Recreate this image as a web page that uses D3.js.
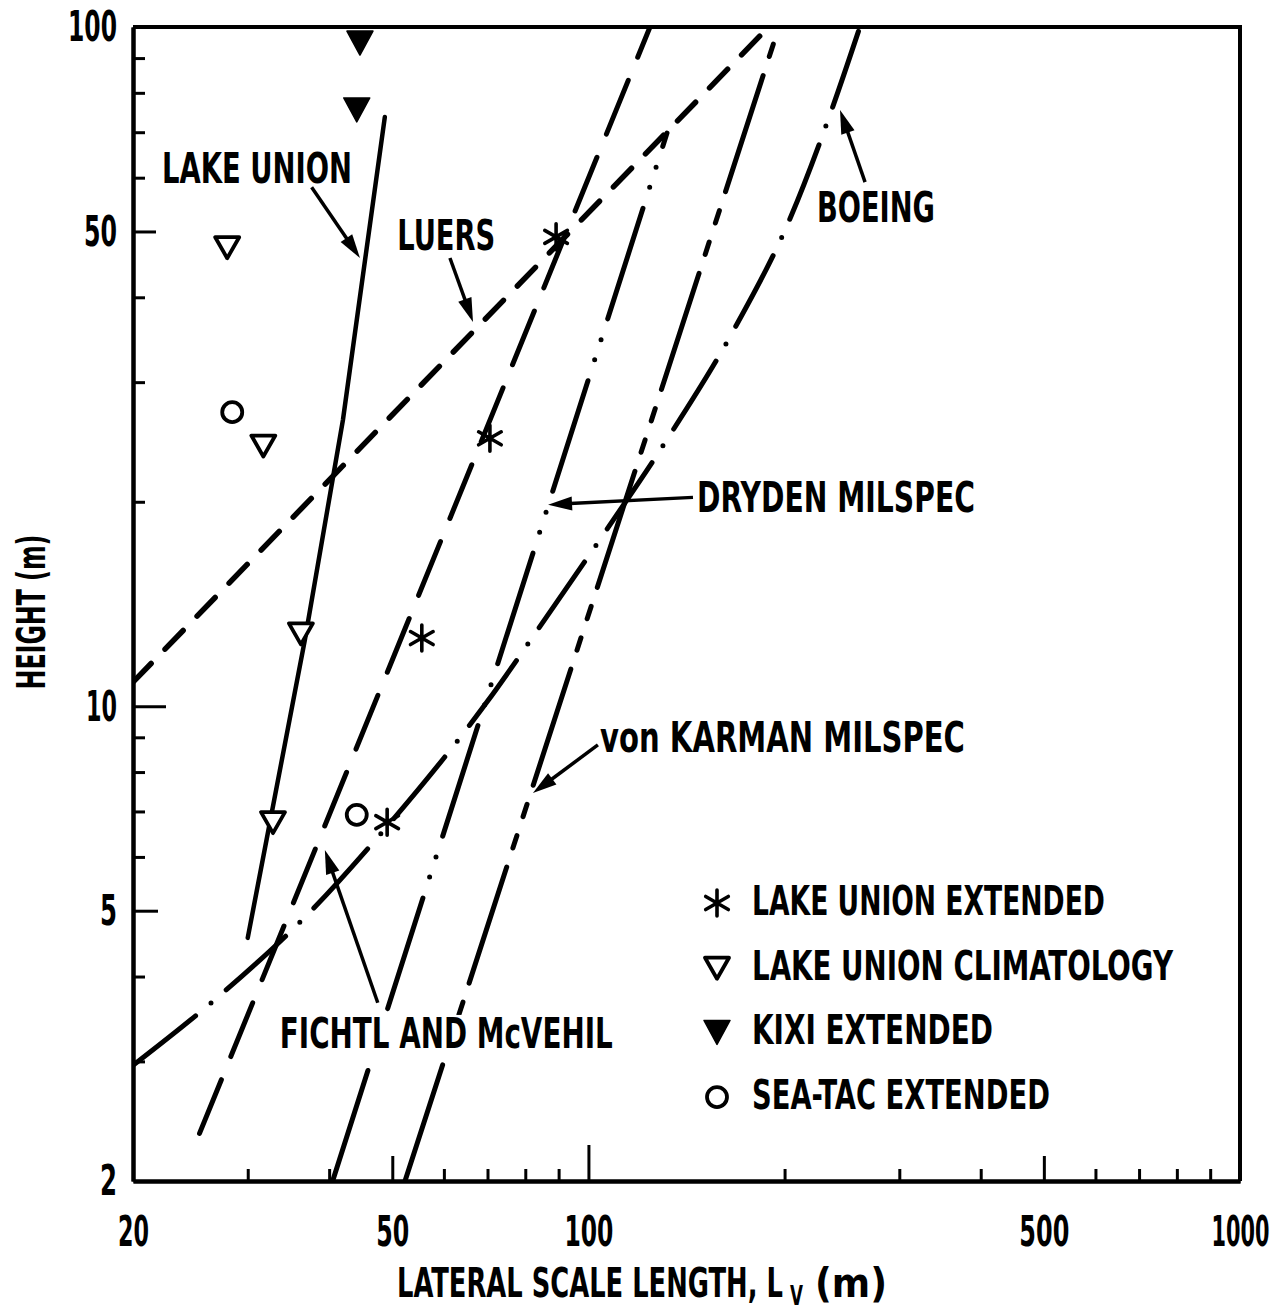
<!DOCTYPE html>
<html>
<head>
<meta charset="utf-8">
<script src="https://cdn.jsdelivr.net/npm/d3@7"></script>
<style>
  html, body { margin: 0; padding: 0; background: #fff; }
  svg { display: block; }
  text {
    font-family: "Liberation Sans Narrow", "DejaVu Sans Condensed", "Arial Narrow", sans-serif;
    font-weight: bold;
    fill: #000;
  }
</style>
</head>
<body>
<svg id="chart" width="1284" height="1313"></svg>
<script>
// ---- tick values ----
const xMajorTicks = [20, 50, 100, 500, 1000];
const xMinorTicks = [30, 40, 60, 70, 80, 90, 200, 300, 400, 600, 700, 800, 900];
const yMajorTicks = [2, 5, 10, 50, 100];
const yMinorTicks = [3, 4, 6, 7, 8, 9, 20, 30, 40, 60, 70, 80, 90];

// ---- measured points: lateral scale length L_v (m) vs height (m) ----
const lakeUnionExtL = [49.1, 55.5, 70.6, 89.2];
const lakeUnionExtH = [6.75, 12.6, 24.8, 49.1];
const lakeUnionClimL = [27.9, 31.7, 36.2, 32.8];
const lakeUnionClimH = [47.4, 24.2, 12.8, 6.75];
const kixiExtL = [44.6, 44.1];
const kixiExtH = [94.7, 75.5];
const seaTacExtL = [28.4, 44.1];
const seaTacExtH = [27.1, 6.92];

// ---- model curves ----
const lakeUnionCurveL = [48.7, 42.0, 36.7, 30.0];
const lakeUnionCurveH = [73.7, 26.4, 12.5, 4.56];
const luersCurveL = [20, 189];
const luersCurveH = [10.85, 100];
const fichtlCurveL = [25.3, 124.3];
const fichtlCurveH = [2.35, 100];
const drydenCurveL = [40.5, 132];
const drydenCurveH = [2, 69.8];
const vonKarmanCurveL = [52.3, 196];
const vonKarmanCurveH = [2, 100];
const boeingCurveL = [20, 26.9, 37.4, 47.4, 69.9, 87.9, 105, 132, 166, 204, 237, 261];
const boeingCurveH = [2.96, 3.72, 4.98, 6.40, 10.15, 13.9, 17.8, 24.7, 35.4, 52.3, 76.2, 100];

// ---- curve labels and their pointers (in chart units) ----
const curveLabels = ["LAKE UNION", "LUERS", "BOEING", "DRYDEN MILSPEC", "von KARMAN MILSPEC", "FICHTL AND McVEHIL"];
const curveLabelL = [22.16, 50.9, 224.3, 146.8, 104.2, 33.6];
const curveLabelH = [58.9, 46.9, 51.6, 19.3, 8.56, 3.14];
const pointerFromL = [37.6, 61.3, 265.8, 144.7, 103.4, 47.5];
const pointerFromH = [58.1, 45.7, 59.1, 20.3, 8.77, 3.66];
const pointerToL = [44.6, 66.5, 243.3, 86.7, 82.2, 39.4];
const pointerToH = [45.7, 36.8, 75.5, 19.8, 7.45, 6.14];

const legendLabels = ["LAKE UNION EXTENDED", "LAKE UNION CLIMATOLOGY", "KIXI EXTENDED", "SEA-TAC EXTENDED"];

// ---- layout ----
const svg = d3.select("#chart");
const x = d3.scaleLog().domain([20, 1000]).range([133, 1240]);
const y = d3.scaleLog().domain([2, 100]).range([1181, 27]);
const [x0, x1] = x.range();
const [y0, y1] = y.range();

svg.append("defs").append("clipPath").attr("id", "plot")
  .append("rect").attr("x", x0).attr("y", y1).attr("width", x1 - x0).attr("height", y0 - y1);

// Narrow lettering: squeeze each text horizontally to the wanted width.
function squeeze(sel, width) {
  sel.each(function (d, i) {
    const t = d3.select(this);
    const w = typeof width === "function" ? width(d, i) : width;
    const n = this.getComputedTextLength();
    const k = n > 0 ? w / n : 1;
    const tx = +t.attr("x") || 0, ty = +t.attr("y") || 0;
    t.attr("x", 0).attr("y", 0).attr("transform", `translate(${tx},${ty}) scale(${k},1)`);
  });
}

// ---- axes ----
const tickLabelWidth = {20: 31, 50: 33, 100: 49, 500: 50, 1000: 58, 2: 17, 5: 17, 10: 31};
const xMajorLen = {20: 0, 50: 25, 100: 36, 500: 25, 1000: 0};
const yMajorLen = {2: 0, 5: 25, 10: 33, 50: 23, 100: 0};

function styleAxis(g) {
  g.attr("font-family", null).attr("font-size", null);
  g.select(".domain").attr("stroke", "#000").attr("stroke-width", 4);
  g.selectAll(".tick line").attr("stroke", "#000").attr("stroke-width", 3);
}

svg.append("g").attr("transform", `translate(0,${y0})`)
  .call(d3.axisBottom(x).tickValues(xMinorTicks).tickSizeInner(-12).tickSizeOuter(0).tickFormat(""))
  .call(styleAxis);

const gxMajor = svg.append("g").attr("transform", `translate(0,${y0})`)
  .call(d3.axisBottom(x).tickValues(xMajorTicks).tickSizeInner(-25).tickSizeOuter(0)
    .tickPadding(34).tickFormat(d3.format("d")))
  .call(styleAxis);
gxMajor.selectAll(".tick line").attr("y2", d => -xMajorLen[d]);
gxMajor.selectAll(".tick text").style("font-size", "43px").call(squeeze, d => tickLabelWidth[d]);

svg.append("g").attr("transform", `translate(${x0},0)`)
  .call(d3.axisLeft(y).tickValues(yMinorTicks).tickSizeInner(-12).tickSizeOuter(0).tickFormat(""))
  .call(styleAxis);

const gyMajor = svg.append("g").attr("transform", `translate(${x0},0)`)
  .call(d3.axisLeft(y).tickValues(yMajorTicks).tickSizeInner(-25).tickSizeOuter(0)
    .tickPadding(16).tickFormat(d3.format("d")))
  .call(styleAxis);
gyMajor.selectAll(".tick line").attr("x2", d => yMajorLen[d]);
gyMajor.selectAll(".tick text").style("font-size", "43px").call(squeeze, d => tickLabelWidth[d]);

// frame top and right
svg.append("path")
  .attr("d", `M${x0},${y1}H${x1}V${y0}`)
  .attr("fill", "none").attr("stroke", "#000").attr("stroke-width", 4);

// axis titles
svg.append("g").attr("transform", `translate(45,${(y0 + y1) / 2 + 8}) rotate(-90)`)
  .append("text")
  .attr("text-anchor", "middle")
  .style("font-size", "39px")
  .text("HEIGHT (m)")
  .call(squeeze, 155);

const xTitle = svg.append("g");
xTitle.append("text").attr("x", 397).attr("y", 1297)
  .style("font-size", "40px")
  .text("LATERAL SCALE LENGTH, L")
  .call(squeeze, 386);
xTitle.append("text").attr("x", 790).attr("y", 1305)
  .style("font-size", "27px")
  .text("V")
  .call(squeeze, 13);
xTitle.append("text").attr("x", 815).attr("y", 1297)
  .style("font-size", "40px")
  .text("(m)")
  .call(squeeze, 72);

// ---- curves ----
const plot = svg.append("g").attr("clip-path", "url(#plot)");
const lineGen = d3.line().x(d => x(d[0])).y(d => y(d[1]));
const smoothGen = d3.line().x(d => x(d[0])).y(d => y(d[1])).curve(d3.curveMonotoneX);

const curves = [
  {pts: d3.zip(lakeUnionCurveL, lakeUnionCurveH), gen: lineGen, dash: null, w: 4.5},
  {pts: d3.zip(luersCurveL, luersCurveH), gen: lineGen, dash: "26 20", w: 5.5},
  {pts: d3.zip(fichtlCurveL, fichtlCurveH), gen: lineGen, dash: "58 25", w: 5},
  {pts: d3.zip(drydenCurveL, drydenCurveH), gen: lineGen, dash: "116 22 0 21 0 22", w: 5},
  {pts: d3.zip(vonKarmanCurveL, vonKarmanCurveH), gen: lineGen, dash: "122 20 13 20 13 20", w: 5},
  {pts: d3.zip(boeingCurveL, boeingCurveH), gen: smoothGen, dash: "80 20 0 20", w: 5}
];

plot.selectAll("path.curve").data(curves).join("path")
  .attr("class", "curve")
  .attr("d", c => c.gen(c.pts))
  .attr("fill", "none")
  .attr("stroke", "#000")
  .attr("stroke-width", c => c.w)
  .attr("stroke-linecap", "round")
  .attr("stroke-dasharray", c => c.dash);

// ---- markers ----
const symbols = {
  asterisk: {d: "M0,-13L0,13M-11.3,-6.5L11.3,6.5M-11.3,6.5L11.3,-6.5", fill: "none", sw: 3.6},
  openTri: {d: "M-12,-10L12,-10L0,11Z", fill: "#fff", sw: 3.8},
  filledTri: {d: "M-13,-12L13,-12L0,12Z", fill: "#000", sw: 1.5},
  circle: {d: "M10,0A10,10 0 1,1 -10,0A10,10 0 1,1 10,0Z", fill: "#fff", sw: 3.8}
};

const markerSets = [
  {pts: d3.zip(lakeUnionExtL, lakeUnionExtH), sym: "asterisk"},
  {pts: d3.zip(lakeUnionClimL, lakeUnionClimH), sym: "openTri"},
  {pts: d3.zip(kixiExtL, kixiExtH), sym: "filledTri"},
  {pts: d3.zip(seaTacExtL, seaTacExtH), sym: "circle"}
];

function drawSymbol(sel, name) {
  const s = symbols[name];
  sel.append("path")
    .attr("d", s.d)
    .attr("fill", s.fill)
    .attr("stroke", "#000")
    .attr("stroke-width", s.sw)
    .attr("stroke-linejoin", "round")
    .attr("stroke-linecap", "round");
}

markerSets.forEach(set => {
  svg.append("g").selectAll("g").data(set.pts).join("g")
    .attr("transform", d => `translate(${x(d[0])},${y(d[1])})`)
    .each(function () { drawSymbol(d3.select(this), set.sym); });
});

// ---- curve labels (knocking out the curves behind them) and pointers ----
const labelWidths = [190, 98, 118, 278, 365, 333];
curveLabels.forEach((t, i) => {
  const g = svg.append("g");
  const bg = g.append("rect").attr("fill", "#fff");
  const tx = x(curveLabelL[i]), ty = y(curveLabelH[i]);
  const txt = g.append("text")
    .attr("x", tx).attr("y", ty)
    .style("font-size", "43px")
    .text(t);
  const box = txt.node().getBBox();
  txt.call(squeeze, labelWidths[i]);
  bg.attr("x", tx - 3).attr("width", labelWidths[i] + 6)
    .attr("y", ty - 33).attr("height", 38);
});

function pointer(fromL, fromH, toL, toH) {
  const ax = x(fromL), ay = y(fromH), bx = x(toL), by = y(toH);
  const len = Math.hypot(bx - ax, by - ay);
  const ux = (bx - ax) / len, uy = (by - ay) / len;
  const headLen = 24, headHalf = 7;
  const baseX = bx - ux * headLen, baseY = by - uy * headLen;
  const g = svg.append("g");
  g.append("line")
    .attr("x1", ax).attr("y1", ay).attr("x2", baseX + ux * 2).attr("y2", baseY + uy * 2)
    .attr("stroke", "#000").attr("stroke-width", 3.5);
  g.append("path")
    .attr("d", `M${bx},${by}L${baseX - uy * headHalf},${baseY + ux * headHalf}L${baseX + uy * headHalf},${baseY - ux * headHalf}Z`)
    .attr("fill", "#000");
}
curveLabels.forEach((t, i) => pointer(pointerFromL[i], pointerFromH[i], pointerToL[i], pointerToH[i]));

// ---- legend ----
const legendSyms = ["asterisk", "openTri", "filledTri", "circle"];
const legendWidths = [353, 421, 241, 298];
const legend = svg.append("g").attr("transform", "translate(717,903)");
legendLabels.forEach((t, i) => {
  const row = legend.append("g").attr("transform", `translate(0,${i * 64.7})`);
  drawSymbol(row, legendSyms[i]);
  row.append("text")
    .attr("x", 35).attr("y", 12)
    .style("font-size", "41px")
    .text(t)
    .call(squeeze, legendWidths[i]);
});
</script>
</body>
</html>
